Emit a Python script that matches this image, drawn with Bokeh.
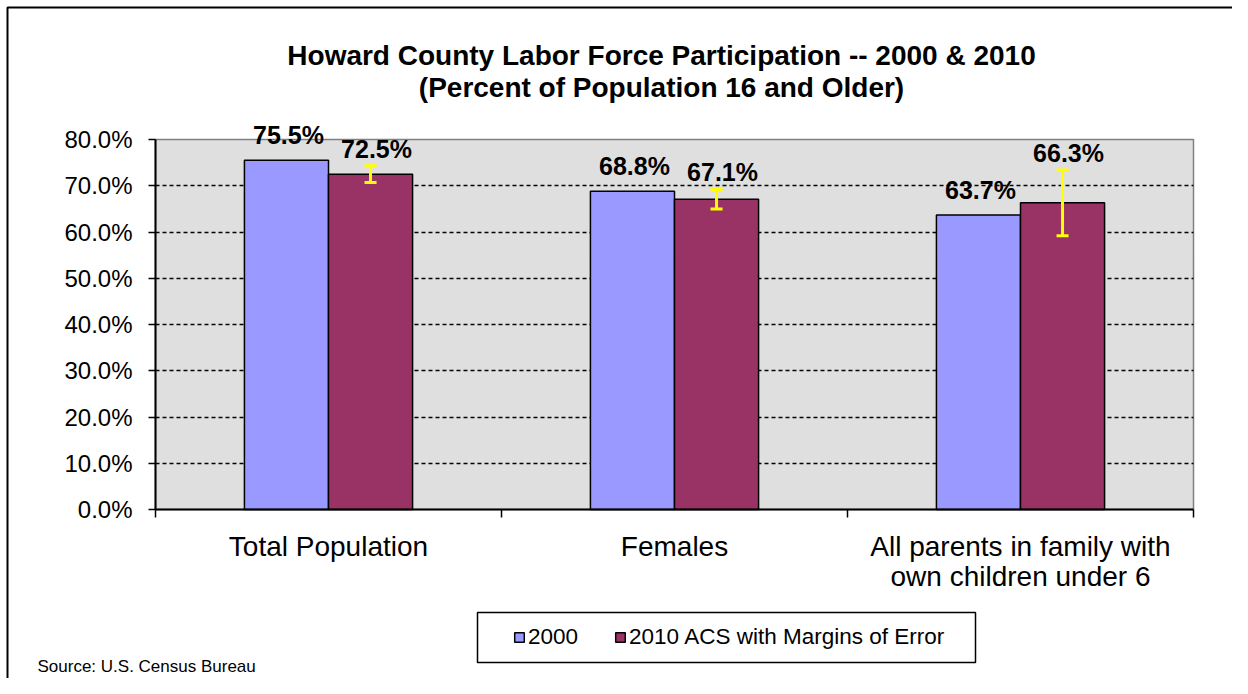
from bokeh.plotting import figure
from bokeh.models import (Label, Legend, LegendItem, BoxAnnotation, Whisker, TeeHead,
                          ColumnDataSource, FixedTicker, PrintfTickFormatter, Range1d)
from bokeh.core.properties import value
from bokeh.embed import file_html
from bokeh.resources import INLINE

# ---------------- data ----------------
categories = ["Total Population", "Females", "All parents in family with\nown children under 6"]
values_2000 = [75.5, 68.8, 63.7]
values_2010 = [72.5, 67.1, 66.3]
moe_2010 = [1.8, 2.1, 7.1]
series_names = ["2000", "2010 ACS with Margins of Error"]
y_ticks = [0, 10, 20, 30, 40, 50, 60, 70, 80]
title_lines = ["Howard County Labor Force Participation -- 2000 & 2010",
               "(Percent of Population 16 and Older)"]
source_note = "Source:  U.S. Census Bureau"

FONT = "Liberation Sans"
C2000 = "#9999FF"
C2010 = "#993366"
YMAX = 80
NCAT = len(categories)

# ---------------- layout (canvas pixels) ----------------
W, H = 1232, 678
PX_L, PX_R = 155, 1193      # canvas x of category axis start / end
PY_B, PY_T = 509, 139       # canvas y of 0% / 80%
sx = (PX_R - PX_L) / NCAT
sy = (PY_B - PY_T) / YMAX
x_range = Range1d(-PX_L / sx, NCAT + (W - PX_R) / sx)
y_range = Range1d(-(H - PY_B) / sy, YMAX + PY_T / sy)

p = figure(width=W, height=H, output_backend="svg", toolbar_location=None,
           x_range=x_range, y_range=y_range,
           min_border_left=0, min_border_right=0, min_border_top=0,
           min_border_bottom=0, title=None)
p.background_fill_color = "white"
p.border_fill_color = "white"
p.outline_line_color = None

# plot area (gray) drawn through data scales
p.quad(left=[0], right=[NCAT], bottom=[0], top=[YMAX],
       fill_color="#dfdfdf", line_color="#808080", line_width=1.5, level="image")

bw = 0.243
idx = list(range(NCAT))
x2000 = [i + 0.5 - bw / 2 for i in idx]
x2010 = [i + 0.5 + bw / 2 for i in idx]
upper_2010 = [v + m for v, m in zip(values_2010, moe_2010)]
lower_2010 = [v - m for v, m in zip(values_2010, moe_2010)]

src2000 = ColumnDataSource(dict(x=x2000, top=values_2000,
                                lab=[f"{v:.1f}%" for v in values_2000]))
src2010 = ColumnDataSource(dict(x=x2010, top=values_2010, upper=upper_2010,
                                lower=lower_2010,
                                lab=[f"{v:.1f}%" for v in values_2010]))

r1 = p.vbar(x="x", top="top", width=bw, source=src2000, fill_color=C2000,
            line_color="black", line_width=1.5)
r2 = p.vbar(x="x", top="top", width=bw, source=src2010, fill_color=C2010,
            line_color="black", line_width=1.5)

wh = Whisker(source=src2010, base="x", upper="upper", lower="lower", dimension="height",
             line_color="#FFFF00", line_width=3, level="annotation",
             upper_head=TeeHead(size=12, line_color="#FFFF00", line_width=3),
             lower_head=TeeHead(size=12, line_color="#FFFF00", line_width=3))
p.add_layout(wh)

p.text(x="x", y="top", text="lab", source=src2000, text_align="center",
       text_baseline="middle", x_offset=2, y_offset=-25, text_font=value(FONT),
       text_font_size="25px", text_font_style="bold", text_color="black",
       level="overlay")
p.text(x="x", y="upper", text="lab", source=src2010, text_align="center",
       text_baseline="middle", x_offset=6, y_offset=-17, text_font=value(FONT),
       text_font_size="25px", text_font_style="bold", text_color="black",
       level="overlay")

# y axis (fixed at x = 0)
p.yaxis.fixed_location = 0
p.yaxis.bounds = (0, YMAX)
p.yaxis.ticker = FixedTicker(ticks=y_ticks)
p.yaxis.formatter = PrintfTickFormatter(format="%.1f%%")
p.yaxis.major_label_text_font = FONT
p.yaxis.major_label_text_font_size = "24px"
p.yaxis.major_label_text_color = "black"
p.yaxis.major_tick_out = 7
p.yaxis.major_tick_in = 0
p.yaxis.minor_tick_line_color = None
p.yaxis.axis_line_width = 2
p.yaxis.axis_line_color = "black"
p.yaxis.major_tick_line_color = "black"
p.yaxis.major_tick_line_width = 1.5
p.yaxis.major_label_standoff = 16

# x axis (fixed at y = 0): labels at centres, tick marks at boundaries
p.xaxis.fixed_location = 0
p.xaxis.bounds = (0, NCAT)
p.xaxis.ticker = FixedTicker(ticks=[i + 0.5 for i in idx],
                             minor_ticks=list(range(NCAT + 1)))
p.xaxis.major_label_overrides = {i + 0.5: c for i, c in enumerate(categories)}
p.xaxis.major_label_text_font = FONT
p.xaxis.major_label_text_font_size = "28px"
p.xaxis.major_label_text_line_height = 0.98
p.xaxis.major_label_text_color = "black"
p.xaxis.major_tick_out = 0
p.xaxis.major_tick_in = 0
p.xaxis.minor_tick_out = 8
p.xaxis.minor_tick_in = 0
p.xaxis.minor_tick_line_color = "black"
p.xaxis.minor_tick_line_width = 1.5
p.xaxis.major_label_standoff = 13
p.xaxis.axis_line_width = 2
p.xaxis.axis_line_color = "black"

p.xgrid.grid_line_color = None
g = p.ygrid[0]
g.ticker = FixedTicker(ticks=y_ticks[1:-1])
g.grid_line_color = "black"
g.grid_line_dash = "4 3"
g.grid_line_width = 1.5
if "cross_bounds" in g.properties():
    g.cross_bounds = (0, NCAT)

# title (screen units from frame bottom-left = canvas bottom-left)
for j, t in enumerate(title_lines):
    p.add_layout(Label(x=661, y=(H - 55) - 32 * j, x_units="screen", y_units="screen",
                       text=t, text_align="center", text_baseline="middle",
                       text_font=FONT, text_font_size="28px", text_font_style="bold",
                       text_color="black"))

# source
p.add_layout(Label(x=37, y=H - 666, x_units="screen", y_units="screen", text=source_note,
                   text_align="left", text_baseline="middle", text_font=FONT,
                   text_font_size="17px", text_color="black"))

# legend box + legend
p.add_layout(BoxAnnotation(left=477, right=975, top=H - 612, bottom=H - 662,
                           left_units="screen", right_units="screen",
                           top_units="screen", bottom_units="screen",
                           fill_color="white", fill_alpha=1, line_color="black",
                           line_width=1.5, line_alpha=1, level="overlay"))
legend = Legend(items=[LegendItem(label=series_names[0], renderers=[r1]),
                       LegendItem(label=series_names[1], renderers=[r2])],
                orientation="horizontal", location=(500, H - 663), margin=0,
                padding=13, spacing=36, label_standoff=3, glyph_width=12,
                glyph_height=12, label_text_font=FONT, label_text_font_size="22.5px",
                label_text_color="black", border_line_alpha=0,
                background_fill_alpha=0, level="overlay")
p.add_layout(legend)

# outer chart border (top and left edges visible)
p.add_layout(BoxAnnotation(left=7, right=W + 50, top=H - 7, bottom=-50,
                           left_units="screen", right_units="screen",
                           top_units="screen", bottom_units="screen",
                           fill_alpha=0, line_color="black", line_width=2,
                           line_alpha=1, level="overlay"))

open("out.html", "w").write(file_html(p, INLINE))
